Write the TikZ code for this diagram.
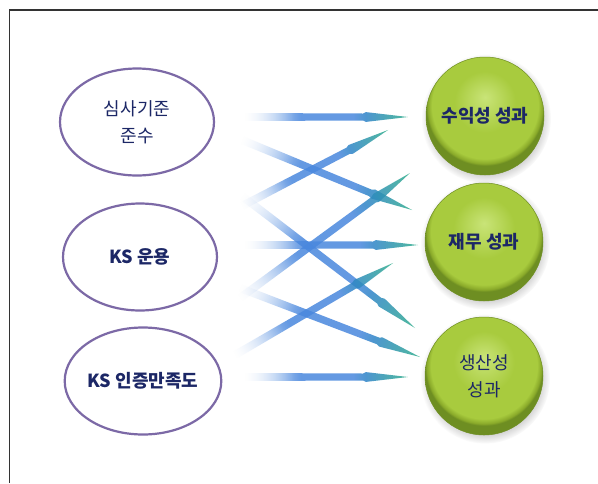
\documentclass[tikz,border=0pt]{standalone}
\usepackage{fontspec}
\newfontfamily\kr{Noto Sans CJK KR}
\usetikzlibrary{shapes.geometric,shadows,fadings}
\definecolor{frameC}{HTML}{333333}
\definecolor{ellC}{HTML}{7C69A6}
\definecolor{txtC}{HTML}{1C2766}
\definecolor{aLight}{HTML}{DCE7F8}
\definecolor{aBlue}{HTML}{4A88DE}
\definecolor{aBlueT}{HTML}{2F84C8}
\definecolor{aTeal}{HTML}{30AE8C}
\definecolor{gHi}{HTML}{C9E478}
\definecolor{gMain}{HTML}{A8CB3E}
\definecolor{gDeep}{HTML}{8AAA2A}
\definecolor{gEdge}{HTML}{6E8E22}
\pgfdeclarehorizontalshading{arrowshade}{100bp}{color(0bp)=(aLight); color(25bp)=(aLight); color(40bp)=(aBlue); color(58bp)=(aBlue); color(62bp)=(aBlueT); color(75bp)=(aTeal); color(100bp)=(aTeal)}
\pgfdeclarehorizontalshading{arrowfadeshade}{100bp}{color(0bp)=(black); color(25bp)=(black); color(42bp)=(white); color(100bp)=(white)}
\pgfdeclarefading{arrowfade}{\pgfuseshading{arrowfadeshade}}
\pgfdeclareradialshading{greenball}{\pgfpoint{0bp}{8bp}}{color(0bp)=(gHi); color(13bp)=(gMain); color(22.5bp)=(gMain); color(24.3bp)=(gDeep); color(25bp)=(gEdge); color(50bp)=(gEdge)}
\tikzset{
  ellnode/.style={ellipse, draw=ellC, line width=2.2pt, fill=white, minimum width=154pt, minimum height=107pt, inner sep=0pt, text=txtC, align=center, font=\kr\fontsize{18}{27}\selectfont},
  ballnode/.style={circle, shading=greenball, draw=gEdge, line width=0.5pt, minimum size=118pt, inner sep=0pt, text=txtC, align=center, font=\kr\fontsize{18}{27}\selectfont, circular drop shadow={shadow xshift=1pt, shadow yshift=-2.5pt, opacity=0.35}},
  boldtext/.style={font=\kr\bfseries\fontsize{18}{27}\selectfont},
  arrowstyle/.style={shading=arrowshade, path fading=arrowfade, fill opacity=0.85},
}
\newcommand\gradarrow[2]{%
  \pgfpointanchor{#1}{center}\pgfgetlastxy{\garrax}{\garray}%
  \pgfpointanchor{#2}{center}\pgfgetlastxy{\garrbx}{\garrby}%
  \pgfmathsetmacro\garrang{atan2(\garrby-\garray,\garrbx-\garrax)}%
  \pgfmathsetmacro\garrlen{veclen(\garrbx-\garrax,\garrby-\garray)}%
  \pgfmathsetmacro\garrh{\garrlen-45}%
  \pgfmathsetmacro\garrhb{\garrlen-42}%
  \begin{scope}[transform canvas={shift={(#1)},rotate=\garrang}]
    \shade[arrowstyle] (0pt,4pt) -- (\garrh pt,3.5pt) -- (\garrhb pt,4.9pt) -- (\garrlen pt,0pt)
      -- (\garrhb pt,-4.9pt) -- (\garrh pt,-3.5pt) -- (0pt,-4pt) -- cycle;
  \end{scope}}
\begin{document}
\begin{tikzpicture}[x=1pt,y=-1pt]
\useasboundingbox (0,0) rectangle (598,483);
\fill[white] (0,0) rectangle (598,483);
\draw[frameC, line width=1.5pt] (598,10) -- (9.5,10) -- (9.5,483);
% left ellipses
\node[ellnode] (e1) at (137,122) {심사기준\\준수};
\node[ellnode, boldtext] (e2) at (140,257) {KS 운용};
\node[ellnode, boldtext] (e3) at (143,381) {KS 인증만족도};
% right balls
\node[ballnode, boldtext] (g1) at (485,116) {수익성 성과};
\node[ballnode, boldtext] (g2) at (484,242) {재무 성과};
\node[ballnode] (g3) at (484,376) {생산성\\성과};
% arrow ends
\coordinate (s1) at (245,117); \coordinate (t1) at (408,117);
\coordinate (s2) at (242,140); \coordinate (t2) at (412,210);
\coordinate (s3) at (242,206); \coordinate (t3) at (388,130);
\coordinate (s4) at (242,196); \coordinate (t4) at (415,328);
\coordinate (s5) at (245,245); \coordinate (t5) at (418,245);
\coordinate (s6) at (240,298); \coordinate (t6) at (410,173);
\coordinate (s7) at (240,288); \coordinate (t7) at (420,357);
\coordinate (s8) at (235,355); \coordinate (t8) at (393,263);
\coordinate (s9) at (245,377); \coordinate (t9) at (408,377);
\gradarrow{s2}{t2}
\gradarrow{s3}{t3}
\gradarrow{s4}{t4}
\gradarrow{s6}{t6}
\gradarrow{s7}{t7}
\gradarrow{s8}{t8}
\gradarrow{s1}{t1}
\gradarrow{s5}{t5}
\gradarrow{s9}{t9}
\end{tikzpicture}
\end{document}
